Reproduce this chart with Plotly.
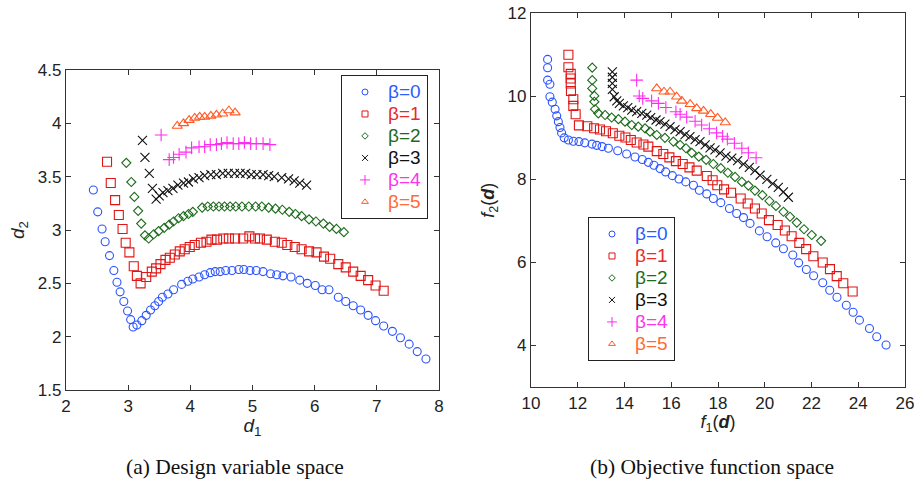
import plotly.graph_objects as go

# ---------------- (a) Design variable space ----------------
b0_d1 = [2.44,2.51,2.58,2.63,2.70,2.77,2.82,2.87,2.93,2.99,3.04,3.08,3.14,3.22,3.29,3.36,3.43,3.49,3.55,3.64,
         3.73,3.86,3.96,4.04,4.14,4.23,4.32,4.40,4.48,4.57,4.67,4.78,4.86,4.96,5.06,5.17,5.29,5.39,5.49,5.62,
         5.76,5.88,6.01,6.12,6.23,6.38,6.50,6.62,6.74,6.86,6.98,7.11,7.25,7.38,7.52,7.65,7.79]
b0_d2 = [3.375,3.17,3.01,2.89,2.76,2.62,2.51,2.42,2.33,2.24,2.16,2.09,2.11,2.15,2.20,2.25,2.29,2.33,2.37,2.40,
         2.44,2.49,2.52,2.54,2.56,2.58,2.60,2.61,2.61,2.62,2.62,2.63,2.63,2.62,2.62,2.61,2.59,2.58,2.57,2.56,
         2.53,2.50,2.48,2.44,2.44,2.37,2.33,2.29,2.25,2.20,2.15,2.10,2.05,1.99,1.93,1.86,1.79]

b1_d1 = [2.66,2.72,2.79,2.85,2.91,2.96,3.02,3.09,3.14,3.20,3.29,3.38,3.45,3.52,3.60,3.67,3.75,3.83,3.91,3.99,
         4.07,4.17,4.26,4.34,4.43,4.53,4.62,4.72,4.85,4.95,5.04,5.12,5.23,5.36,5.47,5.56,5.68,5.79,5.91,6.03,
         6.15,6.25,6.38,6.50,6.62,6.74,6.86,6.98,7.11]
b1_d2 = [3.64,3.44,3.28,3.14,3.01,2.88,2.79,2.66,2.57,2.50,2.56,2.61,2.64,2.68,2.72,2.74,2.77,2.80,2.82,2.84,
         2.86,2.88,2.89,2.91,2.91,2.92,2.92,2.92,2.92,2.94,2.92,2.92,2.91,2.89,2.88,2.86,2.84,2.82,2.80,2.79,
         2.75,2.73,2.68,2.65,2.61,2.57,2.53,2.48,2.43]

b2_d1 = [2.97,3.05,3.10,3.16,3.21,3.27,3.33,3.41,3.49,3.58,3.66,3.73,3.81,3.89,3.97,4.04,4.19,4.28,4.37,4.46,
         4.55,4.64,4.73,4.83,4.94,5.05,5.15,5.26,5.37,5.48,5.59,5.69,5.79,5.91,6.02,6.14,6.24,6.35,6.47]
b2_d2 = [3.63,3.45,3.31,3.18,3.06,2.95,2.92,2.96,2.99,3.02,3.05,3.08,3.11,3.13,3.15,3.17,3.21,3.22,3.22,3.22,
         3.22,3.22,3.22,3.22,3.22,3.22,3.22,3.21,3.20,3.19,3.17,3.15,3.13,3.10,3.08,3.06,3.03,3.01,2.98]

b3_d1 = [3.23,3.27,3.34,3.39,3.45,3.50,3.56,3.64,3.72,3.80,3.89,3.97,4.05,4.14,4.23,4.33,4.42,4.52,4.61,4.71,
         4.80,4.89,4.98,5.07,5.17,5.26,5.35,5.47,5.58,5.67,5.76,5.87]
b3_d2 = [3.84,3.68,3.53,3.39,3.29,3.32,3.35,3.37,3.39,3.42,3.44,3.45,3.48,3.49,3.51,3.52,3.52,3.53,3.53,3.53,
         3.53,3.53,3.52,3.52,3.52,3.51,3.50,3.49,3.48,3.46,3.44,3.42]

b4_d1 = [3.53,3.66,3.73,3.82,3.93,4.02,4.14,4.23,4.32,4.42,4.50,4.59,4.69,4.78,4.87,4.97,5.06,5.17,5.28]
b4_d2 = [3.89,3.66,3.68,3.71,3.73,3.77,3.78,3.78,3.80,3.80,3.81,3.82,3.81,3.81,3.82,3.81,3.81,3.81,3.80]

b5_d1 = [3.79,3.89,3.98,4.07,4.15,4.23,4.33,4.42,4.52,4.62,4.72]
b5_d2 = [3.975,4.00,4.03,4.05,4.06,4.06,4.07,4.08,4.09,4.12,4.10]

# ---------------- (b) Objective function space ----------------
b0_f1 = [10.71,10.71,10.71,10.81,10.81,10.91,11.03,11.10,11.17,11.24,11.31,11.42,11.60,11.81,12.05,12.30,12.61,
         12.81,13.04,13.31,13.71,14.09,14.45,14.76,15.02,15.26,15.52,15.76,16.05,16.33,16.62,16.95,17.20,17.52,
         17.80,18.12,18.49,18.80,19.09,19.37,19.77,20.10,20.47,20.80,21.20,21.45,21.78,22.09,22.48,22.78,23.09,
         23.49,23.78,24.05,24.48,24.79,25.19]
b0_f2 = [10.89,10.69,10.39,10.29,9.99,9.86,9.69,9.53,9.39,9.25,9.12,9.00,8.95,8.92,8.91,8.88,8.85,
         8.82,8.79,8.75,8.69,8.61,8.54,8.48,8.41,8.34,8.26,8.18,8.09,8.01,7.94,7.86,7.74,7.65,
         7.54,7.44,7.30,7.18,7.08,6.94,6.76,6.62,6.47,6.33,6.18,5.99,5.83,5.68,5.51,5.33,5.16,
         4.97,4.80,4.61,4.41,4.21,4.01]

b1_f1 = [11.60,11.60,11.70,11.70,11.70,11.71,11.81,11.81,11.91,12.05,12.41,12.70,12.95,13.21,13.50,13.78,14.04,
         14.27,14.52,14.81,15.02,15.38,15.66,15.92,16.20,16.49,16.78,17.09,17.52,17.77,17.97,18.26,18.56,18.97,
         19.27,19.58,19.87,20.18,20.55,20.86,21.15,21.48,21.77,22.08,22.48,22.79,23.08,23.36,23.76]
b1_f2 = [11.00,10.70,10.54,10.43,10.31,10.13,9.93,9.77,9.57,9.30,9.28,9.23,9.20,9.16,9.11,9.05,9.01,
         8.95,8.89,8.84,8.79,8.68,8.61,8.53,8.44,8.37,8.29,8.21,8.08,7.98,7.86,7.76,7.68,7.54,
         7.42,7.30,7.18,7.02,6.90,6.77,6.63,6.47,6.32,6.15,6.00,5.84,5.67,5.50,5.30]

b2_f1 = [12.62,12.62,12.62,12.71,12.71,12.74,12.88,13.17,13.45,13.74,14.02,14.31,14.59,14.88,15.09,15.38,15.73,
         16.09,16.38,16.63,16.88,17.18,17.49,17.80,18.12,18.42,18.73,19.02,19.30,19.58,19.90,20.20,20.48,20.80,
         21.08,21.37,21.68,22.01,22.41]
b2_f2 = [10.69,10.39,10.19,10.01,9.87,9.69,9.59,9.55,9.49,9.45,9.39,9.31,9.27,9.23,9.15,9.07,9.00,
         8.91,8.83,8.75,8.64,8.55,8.47,8.37,8.27,8.16,8.06,7.94,7.85,7.73,7.62,7.48,7.36,7.22,
         7.10,6.96,6.80,6.66,6.52]

b3_f1 = [13.48,13.48,13.48,13.48,13.56,13.67,13.78,13.95,14.14,14.31,14.52,14.74,14.95,15.12,15.35,15.52,15.73,
         15.95,16.16,16.38,16.59,16.80,17.02,17.23,17.45,17.66,17.87,18.09,18.34,18.59,18.84,19.09,19.34,19.58,
         19.80,20.09,20.34,20.58,20.80,21.01]
b3_f2 = [10.59,10.46,10.31,10.17,9.99,9.89,9.83,9.77,9.73,9.67,9.63,9.59,9.55,9.49,9.43,9.39,9.33,
         9.27,9.20,9.15,9.08,9.03,8.96,8.91,8.83,8.76,8.71,8.64,8.56,8.51,8.45,8.37,8.29,8.21,
         8.10,8.00,7.90,7.81,7.70,7.57]

b4_f1 = [14.52,14.63,14.78,15.16,15.45,15.77,16.20,16.38,16.66,17.02,17.30,17.63,17.94,18.20,18.40,18.70,19.02,
         19.30,19.63]
b4_f2 = [10.39,10.01,9.95,9.89,9.83,9.73,9.63,9.57,9.50,9.40,9.31,9.22,9.12,9.04,8.97,8.87,8.75,
         8.64,8.52]

b5_f1 = [15.38,15.69,15.95,16.23,16.45,16.81,17.09,17.38,17.69,17.98,18.31]
b5_f2 = [10.19,10.11,10.11,9.99,9.89,9.81,9.71,9.65,9.57,9.48,9.37]

labels = ["β=0", "β=1", "β=2", "β=3", "β=4", "β=5"]
colors = ["#2a52ff", "#e01515", "#1c6b1c", "#111111", "#ff2bf0", "#ff5a25"]
text_colors = ["#2a5cff", "#e82a2a", "#1c6b1c", "#111111", "#ff33ee", "#ff6a35"]
symbols = ["circle-open", "square-open", "diamond-open", "x-thin-open", "cross-thin-open", "triangle-up-open"]
sizes = [8, 9, 7, 9, 9, 9]
legend_sizes = [6, 6, 5, 6, 7, 6]

left_x = [b0_d1, b1_d1, b2_d1, b3_d1, b4_d1, b5_d1]
left_y = [b0_d2, b1_d2, b2_d2, b3_d2, b4_d2, b5_d2]
right_x = [b0_f1, b1_f1, b2_f1, b3_f1, b4_f1, b5_f1]
right_y = [b0_f2, b1_f2, b2_f2, b3_f2, b4_f2, b5_f2]

fig = go.Figure()
for ax, ay, xs, ys in (("x", "y", left_x, left_y), ("x2", "y2", right_x, right_y)):
    for i in range(6):
        fig.add_trace(go.Scatter(
            x=xs[i], y=ys[i], mode="markers", showlegend=False,
            marker=dict(symbol=symbols[i], size=sizes[i], color=colors[i],
                        line=dict(width=1.1, color=colors[i])),
            xaxis=ax, yaxis=ay))

# legend entries (small symbols, as in the original legends)
for ax, ay, lg in (("x", "y", "legend"), ("x2", "y2", "legend2")):
    for i in range(6):
        fig.add_trace(go.Scatter(
            x=[None], y=[None], mode="markers", legend=lg, showlegend=True,
            name=f'<span style="color:{text_colors[i]};font-size:19px">{labels[i]}</span>',
            marker=dict(symbol=symbols[i], size=legend_sizes[i], color=colors[i],
                        line=dict(width=1, color=colors[i])),
            xaxis=ax, yaxis=ay))

W, H = 917, 483
axcol = "#333333"
tickfont = dict(family="Liberation Sans, Arial, sans-serif", size=17, color="#222222")
common = dict(showline=True, linecolor=axcol, linewidth=1.2, mirror="ticks", ticks="inside",
              ticklen=5, tickcolor=axcol, tickwidth=1.2, showgrid=False, zeroline=False,
              tickfont=tickfont, automargin=False)
legfont = dict(family="Liberation Sans, Arial, sans-serif", size=14.6)

fig.update_layout(
    width=W, height=H,
    margin=dict(l=0, r=0, t=0, b=0),
    paper_bgcolor="white", plot_bgcolor="white",
    font=dict(family="Liberation Sans, Arial, sans-serif", size=17, color="#222222"),
    xaxis=dict(domain=[66 / W, 439 / W], range=[2, 8], dtick=1, anchor="y",
               title=dict(text="<i>d</i><sub>1</sub>", font=dict(size=19), standoff=4), **common),
    yaxis=dict(domain=[1 - 390 / H, 1 - 70 / H], range=[1.5, 4.5], dtick=0.5, anchor="x",
               title=dict(text="<i>d</i><sub>2</sub>", font=dict(size=19), standoff=8), **common),
    xaxis2=dict(domain=[531 / W, 905 / W], range=[10, 26], dtick=2, anchor="y2",
                title=dict(text="<i>f</i><sub>1</sub>(<b><i>d</i></b>)", font=dict(size=18), standoff=2), **common),
    yaxis2=dict(domain=[1 - 387 / H, 1 - 13.3 / H], range=[3, 12], dtick=2, anchor="x2",
                title=dict(text="<i>f</i><sub>2</sub>(<b><i>d</i></b>)", font=dict(size=18), standoff=8), **common),
    legend=dict(x=341 / W, y=1 - 75 / H, xanchor="left", yanchor="top",
                bgcolor="white", bordercolor="#222222", borderwidth=1,
                font=legfont, tracegroupgap=0, itemwidth=36),
    legend2=dict(x=588 / W, y=1 - 217 / H, xanchor="left", yanchor="top",
                 bgcolor="white", bordercolor="#222222", borderwidth=1,
                 font=legfont, tracegroupgap=0, itemwidth=36),
    annotations=[
        dict(text="(a) Design variable space", x=235 / W, y=1 - 467 / H, xref="paper", yref="paper",
             showarrow=False, xanchor="center", yanchor="middle",
             font=dict(family="Liberation Serif, Times New Roman, serif", size=21.5, color="#111111")),
        dict(text="(b) Objective function space", x=712 / W, y=1 - 467 / H, xref="paper", yref="paper",
             showarrow=False, xanchor="center", yanchor="middle",
             font=dict(family="Liberation Serif, Times New Roman, serif", size=21.5, color="#111111")),
    ],
)

fig.write_html("out.html", config={"displayModeBar": False},
               post_script="document.body.style.margin='0px';")
